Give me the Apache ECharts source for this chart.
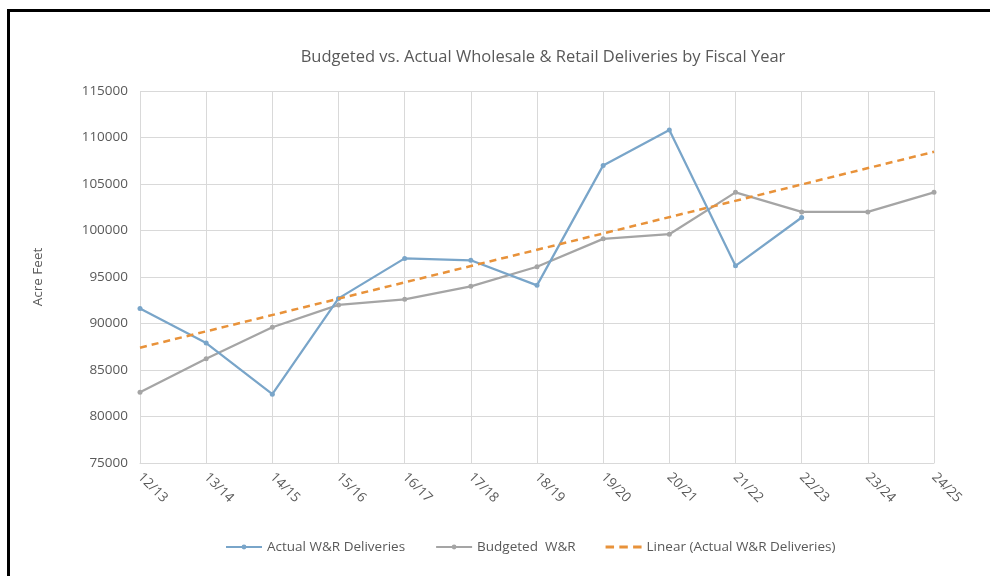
<!DOCTYPE html>
<html><head><meta charset="utf-8">
<script src="https://cdn.jsdelivr.net/npm/echarts@6/dist/echarts.min.js"></script>
<style>
html,body{margin:0;padding:0;background:#fff;width:990px;height:576px;overflow:hidden;}
#frame{position:absolute;left:7px;top:9px;width:1000px;height:600px;border-left:3px solid #000;border-top:3px solid #000;}
#c{position:absolute;left:0;top:0;width:990px;height:576px;}
</style></head>
<body>
<div id="frame"></div>
<div id="c"></div>
<script>
const categories = ['12/13','13/14','14/15','15/16','16/17','17/18','18/19','19/20','20/21','21/22','22/23','23/24','24/25'];
const actual = [91600, 87900, 82400, 92700, 97000, 96800, 94100, 107000, 110800, 96200, 101400, null, null];
const budgeted = [82600, 86200, 89600, 92000, 92600, 94000, 96100, 99100, 99600, 104100, 102000, 102000, 104100];
const trendStart = 87400;
const trendEnd = 108460;
const trend = categories.map((c, i) => i === 0 ? trendStart : (i === categories.length - 1 ? trendEnd : null));
const yTicks = { min: 75000, max: 115000, interval: 5000 };

const font = '"Open Sans", "Liberation Sans", sans-serif';
const txt = '#595959';
const chart = echarts.init(document.getElementById('c'), null, { renderer: 'canvas' });
chart.setOption({
  animation: false,
  backgroundColor: 'transparent',
  title: {
    text: 'Budgeted vs. Actual Wholesale & Retail Deliveries by Fiscal Year',
    left: 538, top: 44, textAlign: 'center',
    textStyle: { fontFamily: font, fontSize: 16.5, fontWeight: 'normal', color: txt }
  },
  grid: { left: 140, right: 56, top: 91, bottom: 113, containLabel: false },
  legend: {
    top: 535, left: 220, itemGap: 30, itemWidth: 36, itemHeight: 6,
    textStyle: { fontFamily: font, fontSize: 13.5, color: txt },
    data: [
      { name: 'Actual W&R Deliveries' },
      { name: 'Budgeted  W&R' },
      { name: 'Linear (Actual W&R Deliveries)', icon: 'path://M0,0h8v3h-8z M13,0h8v3h-8z M26,0h8v3h-8z' }
    ]
  },
  xAxis: {
    type: 'category', data: categories, boundaryGap: false,
    axisLine: { show: true, lineStyle: { color: '#d9d9d9' } },
    axisTick: { show: false },
    splitLine: { show: true, lineStyle: { color: '#d9d9d9' } },
    axisLabel: { rotate: -45, margin: 12, fontFamily: font, fontSize: 13.5, color: txt, interval: 0 }
  },
  yAxis: {
    type: 'value', min: yTicks.min, max: yTicks.max, interval: yTicks.interval,
    name: 'Acre Feet', nameLocation: 'middle', nameGap: 95, nameRotate: 90,
    nameTextStyle: { fontFamily: font, fontSize: 13.5, color: txt },
    axisLine: { show: false }, axisTick: { show: false },
    splitLine: { lineStyle: { color: '#d9d9d9' } },
    axisLabel: { fontFamily: font, fontSize: 13.5, color: txt, margin: 12, formatter: v => String(v) }
  },
  series: [
    { name: 'Actual W&R Deliveries', type: 'line', data: actual, symbol: 'circle', symbolSize: 5,
      itemStyle: { color: '#79a5c9' }, lineStyle: { color: '#79a5c9', width: 2.25 }, z: 3 },
    { name: 'Budgeted  W&R', type: 'line', data: budgeted, symbol: 'circle', symbolSize: 5,
      itemStyle: { color: '#a5a5a5' }, lineStyle: { color: '#a5a5a5', width: 2.25 }, z: 2 },
    { name: 'Linear (Actual W&R Deliveries)', type: 'line', data: trend, connectNulls: true, showSymbol: false, symbol: 'none',
      itemStyle: { color: '#e8923a' }, lineStyle: { color: '#e8923a', width: 2.5, type: [7, 5] }, z: 4 }
  ]
});
</script>
</body></html>
